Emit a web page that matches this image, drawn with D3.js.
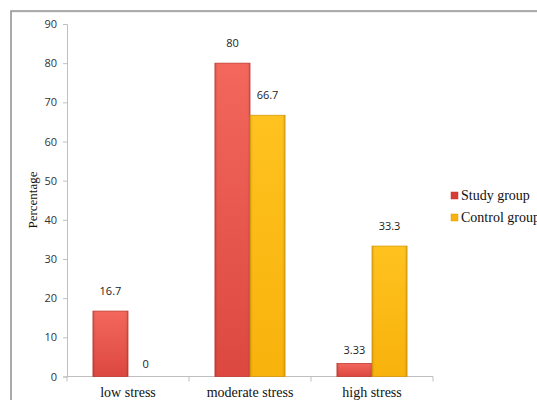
<!DOCTYPE html>
<html>
<head>
<meta charset="utf-8">
<script src="https://cdn.jsdelivr.net/npm/d3@7"></script>
<style>
  html, body { margin: 0; padding: 0; background: #fff; }
  svg { display: block; }
</style>
</head>
<body>
<svg id="chart" width="537" height="400"></svg>
<script>
// Stress level distribution by group
const categories = ["low stress", "moderate stress", "high stress"];
const seriesNames = ["Study group", "Control group"];
const studyValues = [16.7, 80, 3.33];
const controlValues = [0, 66.7, 33.3];
const valueLabels = [["16.7", "80", "3.33"], ["0", "66.7", "33.3"]];
const yTicks = [0, 10, 20, 30, 40, 50, 60, 70, 80, 90];

const svg = d3.select("#chart");
const W = 537, H = 400;

// chart frame
svg.append("rect").attr("x", 11).attr("y", 12).attr("width", W + 20).attr("height", H + 20)
  .attr("fill", "none").attr("stroke", "#e4e6e6").attr("stroke-width", 1);
svg.append("rect").attr("x", 11).attr("y", 11).attr("width", W + 20).attr("height", H + 20)
  .attr("fill", "none").attr("stroke", "#939393").attr("stroke-width", 1.5);

const plot = { left: 67, right: 433, top: 24, bottom: 376.5 };

const x0 = d3.scaleBand().domain(categories).range([plot.left, plot.right]).paddingInner(0).paddingOuter(0);
const x1 = d3.scaleBand().domain(seriesNames).range([0, x0.bandwidth()]).paddingInner(0).paddingOuter(0.74);
const y = d3.scaleLinear().domain([0, 90]).range([plot.bottom, plot.top]);

const colors = {
  "Study group": { top: "#f3675c", bottom: "#dc4840", edge: "#c23b34", legend: "#d83a34" },
  "Control group": { top: "#ffc21f", bottom: "#f8b20c", edge: "#d99a0a", legend: "#f7b20e" }
};

const defs = svg.append("defs");
seriesNames.forEach((s, i) => {
  const g = defs.append("linearGradient").attr("id", "grad" + i)
    .attr("x1", 0).attr("y1", 0).attr("x2", 0).attr("y2", 1);
  g.append("stop").attr("offset", "0%").attr("stop-color", colors[s].top);
  g.append("stop").attr("offset", "100%").attr("stop-color", colors[s].bottom);
  const h = defs.append("linearGradient").attr("id", "side" + i)
    .attr("x1", 0).attr("y1", 0).attr("x2", 1).attr("y2", 0);
  h.append("stop").attr("offset", "0%").attr("stop-color", "#000").attr("stop-opacity", 0.12);
  h.append("stop").attr("offset", "8%").attr("stop-color", "#000").attr("stop-opacity", 0);
  h.append("stop").attr("offset", "92%").attr("stop-color", "#000").attr("stop-opacity", 0);
  h.append("stop").attr("offset", "100%").attr("stop-color", "#000").attr("stop-opacity", 0.12);
});

// y axis
const yAxis = d3.axisLeft(y).tickValues(yTicks).tickSize(4).tickPadding(6).tickFormat(d3.format("d"));
const yg = svg.append("g").attr("transform", `translate(${plot.left},0)`).call(yAxis);
yg.select(".domain").attr("stroke", "#bfbfbf");
yg.selectAll(".tick line").attr("stroke", "#bfbfbf");
yg.selectAll(".tick text").attr("fill", "#333").attr("font-family", "'Open Sans', 'Liberation Sans', sans-serif").attr("font-size", 11);

// x axis with ticks at category boundaries
const xg = svg.append("g").attr("transform", `translate(0,${plot.bottom})`);
xg.append("line").attr("x1", plot.left).attr("x2", plot.right).attr("stroke", "#bfbfbf");
const bounds = categories.map(c => x0(c)).concat([plot.right]);
xg.selectAll("line.tk").data(bounds).join("line").attr("class", "tk")
  .attr("x1", d => d).attr("x2", d => d).attr("y1", 0).attr("y2", 5).attr("stroke", "#bfbfbf");
xg.selectAll("text").data(categories).join("text")
  .attr("x", d => x0(d) + x0.bandwidth() / 2).attr("y", 20)
  .attr("text-anchor", "middle").attr("fill", "#111")
  .attr("font-family", "'Liberation Serif', 'Times New Roman', serif").attr("font-size", 14)
  .text(d => d);

// y axis title
svg.append("text").attr("transform", `translate(37,200) rotate(-90)`)
  .attr("text-anchor", "middle").attr("fill", "#111")
  .attr("font-family", "'Liberation Serif', 'Times New Roman', serif").attr("font-size", 13)
  .text("Percentage");

// bars
const series = [studyValues, controlValues];
series.forEach((vals, si) => {
  const name = seriesNames[si];
  const g = svg.append("g");
  const data = categories.map((c, i) => ({ c, v: vals[i], label: valueLabels[si][i] }));
  g.selectAll("rect.bar").data(data.filter(d => d.v > 0)).join("rect").attr("class", "bar")
    .attr("x", d => x0(d.c) + x1(name))
    .attr("y", d => y(d.v))
    .attr("width", x1.bandwidth())
    .attr("height", d => y(0) - y(d.v))
    .attr("fill", `url(#grad${si})`)
    .attr("stroke", colors[name].edge).attr("stroke-width", 0.8);
  g.selectAll("rect.shade").data(data.filter(d => d.v > 0)).join("rect").attr("class", "shade")
    .attr("x", d => x0(d.c) + x1(name))
    .attr("y", d => y(d.v))
    .attr("width", x1.bandwidth())
    .attr("height", d => y(0) - y(d.v))
    .attr("fill", `url(#side${si})`);
  g.selectAll("text").data(data).join("text")
    .attr("x", d => x0(d.c) + x1(name) + x1.bandwidth() / 2)
    .attr("y", d => y(d.v) - (d.v > 10 ? 16 : 9))
    .attr("text-anchor", "middle").attr("fill", "#222")
    .attr("font-family", "'Open Sans', 'Liberation Sans', sans-serif").attr("font-size", 11)
    .text(d => d.label);
});

// legend
const lg = svg.append("g").attr("transform", "translate(451,192)");
seriesNames.forEach((s, i) => {
  const row = lg.append("g").attr("transform", `translate(0,${i * 22})`);
  row.append("rect").attr("x", 0).attr("y", 0).attr("width", 7).attr("height", 7)
    .attr("fill", colors[s].legend).attr("stroke", colors[s].edge).attr("stroke-width", 0.5);
  row.append("text").attr("x", 10).attr("y", 8)
    .attr("fill", "#111").attr("font-family", "'Liberation Serif', 'Times New Roman', serif").attr("font-size", 14)
    .text(s);
});
</script>
</body>
</html>
